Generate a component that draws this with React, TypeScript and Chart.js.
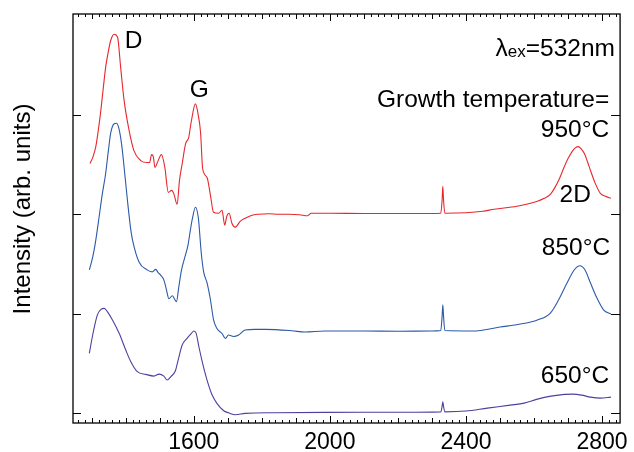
import { useEffect, useRef } from 'react';
import { Chart, registerables } from 'chart.js';

Chart.register(...registerables);

const FONT = "'Liberation Sans', Arial, Helvetica, sans-serif";

const xTickLabels = [1600, 2000, 2400, 2800];
const yTickValues = [0, 1, 2, 3];

// 950 °C (red)
const shift950 = [1295, 1304, 1312, 1320, 1327, 1334, 1341, 1349, 1356, 1366, 1376, 1385, 1395, 1410, 1424, 1444, 1463, 1470, 1476, 1481, 1486, 1493, 1505, 1515, 1525, 1535, 1541, 1551, 1558, 1566, 1576, 1585, 1592, 1605, 1613, 1620, 1626, 1639, 1649, 1658, 1673, 1683, 1691, 1697, 1704, 1712, 1722, 1737, 1751, 1771, 1790, 1820, 1850, 1880, 1910, 1935, 1945, 1960, 2000, 2100, 2200, 2300, 2326, 2330, 2332, 2334, 2338, 2400, 2450, 2483, 2550, 2610, 2630, 2648, 2660, 2675, 2688, 2700, 2712, 2722, 2730, 2738, 2748, 2757, 2766, 2780, 2795, 2810, 2826];
const int950 = [2.51, 2.58, 2.68, 2.86, 3.05, 3.27, 3.48, 3.64, 3.75, 3.81, 3.78, 3.48, 3.15, 2.84, 2.64, 2.54, 2.52, 2.52, 2.6, 2.58, 2.47, 2.52, 2.6, 2.47, 2.22, 2.24, 2.21, 2.1, 2.34, 2.51, 2.71, 2.77, 2.92, 3.11, 3.0, 2.82, 2.46, 2.37, 2.19, 2.02, 2.01, 2.04, 1.89, 1.98, 2.01, 1.91, 1.87, 1.93, 1.96, 1.99, 2.0, 2.005, 2.0, 2.0, 1.995, 1.985, 2.01, 2.01, 2.01, 2.008, 2.008, 2.008, 2.01, 2.15, 2.28, 2.15, 2.01, 2.015, 2.03, 2.05, 2.08, 2.13, 2.16, 2.2, 2.26, 2.36, 2.47, 2.56, 2.63, 2.67, 2.68, 2.66, 2.61, 2.53, 2.44, 2.31, 2.21, 2.18, 2.16];

// 850 °C (blue)
const shift850 = [1293, 1303, 1312, 1322, 1331, 1341, 1349, 1356, 1366, 1373, 1380, 1388, 1395, 1405, 1415, 1420, 1439, 1463, 1478, 1488, 1496, 1502, 1512, 1519, 1527, 1537, 1543, 1549, 1556, 1564, 1574, 1583, 1590, 1595, 1605, 1613, 1615, 1622, 1629, 1639, 1649, 1658, 1668, 1683, 1693, 1702, 1717, 1732, 1751, 1780, 1810, 1888, 1927, 1985, 2100, 2200, 2300, 2326, 2330, 2332, 2334, 2338, 2420, 2500, 2560, 2610, 2648, 2672, 2697, 2718, 2735, 2750, 2766, 2785, 2805, 2826];
const int850 = [1.44, 1.57, 1.74, 1.98, 2.2, 2.41, 2.64, 2.82, 2.91, 2.915, 2.86, 2.7, 2.48, 2.14, 1.84, 1.74, 1.52, 1.44, 1.42, 1.445, 1.41, 1.39, 1.34, 1.25, 1.15, 1.18, 1.15, 1.12, 1.27, 1.44, 1.57, 1.69, 1.84, 1.94, 2.07, 1.975, 1.91, 1.61, 1.42, 1.31, 1.14, 0.94, 0.85, 0.8, 0.75, 0.785, 0.77, 0.785, 0.835, 0.842, 0.842, 0.828, 0.815, 0.825, 0.825, 0.823, 0.825, 0.83, 0.98, 1.09, 0.98, 0.83, 0.825, 0.865, 0.895, 0.936, 1.006, 1.137, 1.308, 1.439, 1.482, 1.439, 1.308, 1.157, 1.036, 0.996];

// 650 °C (purple)
const shift650 = [1293, 1302, 1310, 1317, 1327, 1337, 1346, 1361, 1381, 1400, 1415, 1434, 1459, 1483, 1498, 1512, 1522, 1532, 1546, 1554, 1566, 1580, 1593, 1600, 1607, 1615, 1626, 1639, 1654, 1668, 1688, 1702, 1722, 1751, 1839, 1985, 2100, 2200, 2300, 2326, 2330, 2332, 2334, 2338, 2400, 2463, 2530, 2571, 2610, 2650, 2690, 2715, 2740, 2766, 2795, 2826];
const int650 = [0.6, 0.77, 0.9, 0.99, 1.043, 1.053, 1.02, 0.936, 0.8, 0.634, 0.516, 0.416, 0.389, 0.372, 0.392, 0.372, 0.332, 0.365, 0.426, 0.533, 0.684, 0.751, 0.802, 0.825, 0.802, 0.667, 0.5, 0.332, 0.181, 0.098, 0.023, 0.003, -0.017, -0.003, 0.003, 0.007, 0.008, 0.008, 0.009, 0.01, 0.07, 0.114, 0.07, 0.012, 0.02, 0.05, 0.08, 0.1, 0.14, 0.17, 0.188, 0.19, 0.18, 0.16, 0.15, 0.16];

const seriesColors = ['#e8262c', '#2a5aa8', '#4f3f9e'];

const toPoints = (xs: number[], ys: number[]) => xs.map((x, i) => ({ x, y: ys[i] }));

const annotationPlugin = {
  id: 'frameAndText',
  afterDraw(chart: any) {
    const { ctx, chartArea: a, scales } = chart;
    const x = scales.x;
    const y = scales.y;
    ctx.save();
    ctx.strokeStyle = '#000';
    ctx.lineWidth = 1.3;
    ctx.strokeRect(a.left, a.top, a.right - a.left, a.bottom - a.top);
    ctx.lineWidth = 1;
    ctx.beginPath();
    for (let v = 1260; v <= 2840; v += 20) {
      const px = Math.round(x.getPixelForValue(v)) + 0.5;
      const len = v % 400 === 0 ? 7 : v % 100 === 0 ? 5 : 3;
      ctx.moveTo(px, a.bottom);
      ctx.lineTo(px, a.bottom - len);
      ctx.moveTo(px, a.top);
      ctx.lineTo(px, a.top + len);
    }
    yTickValues.forEach((v) => {
      const py = Math.round(y.getPixelForValue(v)) + 0.5;
      ctx.moveTo(a.left, py);
      ctx.lineTo(a.left + 8, py);
      ctx.moveTo(a.right, py);
      ctx.lineTo(a.right - 9, py);
    });
    ctx.stroke();

    ctx.fillStyle = '#000';
    const big = `24.5px ${FONT}`;
    const small = `17px ${FONT}`;
    ctx.textBaseline = 'alphabetic';
    const put = (text: string, xv: number, yv: number, align: CanvasTextAlign) => {
      ctx.textAlign = align;
      ctx.fillText(text, x.getPixelForValue(xv), y.getPixelForValue(yv));
    };
    ctx.font = big;
    put('D', 1397, 3.672, 'left');
    put('G', 1616, 3.179, 'center');
    put('Growth temperature=', 2821, 3.078, 'right');
    put('950°C', 2821, 2.777, 'right');
    put('2D', 2721, 2.123, 'center');
    put('850°C', 2824, 1.59, 'right');
    put('650°C', 2821, 0.302, 'right');

    // λex=532nm with subscript
    const rightPx = x.getPixelForValue(2838);
    const basePx = y.getPixelForValue(3.592);
    ctx.textAlign = 'left';
    ctx.font = big;
    const wTail = ctx.measureText('=532nm').width;
    const wL = ctx.measureText('λ').width;
    ctx.font = small;
    const wSub = ctx.measureText('ex').width;
    let cx = rightPx - wTail - wSub - wL;
    ctx.font = big;
    ctx.fillText('λ', cx, basePx);
    cx += wL;
    ctx.font = small;
    ctx.fillText('ex', cx, basePx + 1);
    cx += wSub;
    ctx.font = big;
    ctx.fillText('=532nm', cx, basePx);

    // y axis title
    ctx.save();
    ctx.translate(23, 209);
    ctx.rotate(-Math.PI / 2);
    ctx.textAlign = 'center';
    ctx.textBaseline = 'middle';
    ctx.font = `24px ${FONT}`;
    ctx.fillText('Intensity (arb. units)', 0, 0);
    ctx.restore();

    ctx.restore();
  },
};

export default function App() {
  const ref = useRef<HTMLCanvasElement | null>(null);
  useEffect(() => {
    if (!ref.current) return;
    const chart = new Chart(ref.current, {
      type: 'line',
      data: {
        datasets: [
          { label: '950°C', data: toPoints(shift950, int950), borderColor: seriesColors[0] },
          { label: '850°C', data: toPoints(shift850, int850), borderColor: seriesColors[1] },
          { label: '650°C', data: toPoints(shift650, int650), borderColor: seriesColors[2] },
        ].map((d) => ({
          ...d,
          borderWidth: 1.1,
          pointRadius: 0,
          fill: false,
          cubicInterpolationMode: 'monotone' as const,
        })),
      },
      options: {
        animation: false,
        responsive: false,
        layout: { padding: { top: 14, right: 11, left: 0, bottom: 0 } },
        plugins: { legend: { display: false }, tooltip: { enabled: false } },
        scales: {
          x: {
            type: 'linear',
            min: 1245,
            max: 2853,
            afterBuildTicks: (s: any) => {
              s.ticks = xTickLabels.map((v) => ({ value: v }));
            },
            afterFit: (s: any) => {
              s.height = 29;
            },
            grid: { display: false, drawTicks: false },
            border: { display: false },
            ticks: {
              color: '#000',
              font: { size: 23, family: FONT },
              padding: 6,
              maxRotation: 0,
              autoSkip: false,
              callback: (v: any) => String(v),
            },
          },
          y: {
            type: 'linear',
            min: -0.1,
            max: 4.014,
            afterBuildTicks: (s: any) => {
              s.ticks = yTickValues.map((v) => ({ value: v }));
            },
            afterFit: (s: any) => {
              s.width = 73;
            },
            grid: { display: false },
            border: { display: false },
            ticks: { display: false },
          },
        },
      },
      plugins: [annotationPlugin],
    });
    return () => chart.destroy();
  }, []);
  return (
    <div style={{ position: 'absolute', left: 0, top: 0, width: 634, height: 452, background: '#fff' }}>
      <canvas ref={ref} width={634} height={452} style={{ display: 'block' }} />
    </div>
  );
}
